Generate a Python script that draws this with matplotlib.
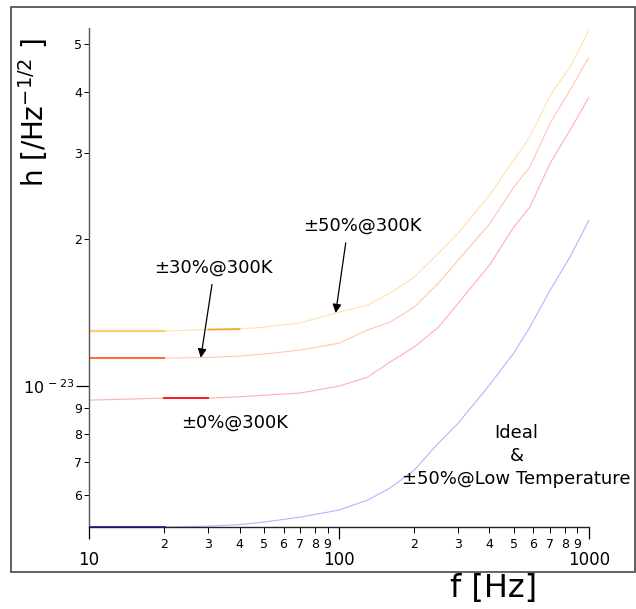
import numpy as np
import matplotlib.pyplot as plt
import matplotlib.patches as patches
from matplotlib.ticker import FixedLocator, FixedFormatter

# frequency points [Hz]
freq = [10, 20, 30, 40, 50, 70, 100, 130, 160, 200, 250, 300, 400, 500, 580, 700, 840, 1000]

# strain noise in units of 1e-23 /sqrt(Hz)
h_50 = [1.296, 1.296, 1.305, 1.308, 1.320, 1.347, 1.417, 1.464, 1.550, 1.671,
        1.871, 2.056, 2.458, 2.899, 3.230, 3.937, 4.492, 5.346]
h_30 = [1.141, 1.141, 1.144, 1.152, 1.163, 1.185, 1.224, 1.302, 1.352, 1.450,
        1.624, 1.811, 2.144, 2.553, 2.805, 3.451, 4.030, 4.708]
h_0 = [0.936, 0.945, 0.945, 0.951, 0.958, 0.968, 1.000, 1.043, 1.120, 1.202,
       1.320, 1.478, 1.768, 2.114, 2.323, 2.858, 3.338, 3.899]
h_ideal = [0.5148, 0.5148, 0.5172, 0.5209, 0.5271, 0.5396, 0.5578, 0.5846, 0.6186, 0.6733,
           0.7646, 0.8401, 1.005, 1.168, 1.320, 1.572, 1.836, 2.185]

x_major = [10, 100, 1000]
x_major_labels = ["10", "100", "1000"]
x_minor = [20, 30, 40, 50, 60, 70, 80, 90, 200, 300, 400, 500, 600, 700, 800, 900]
x_minor_labels = ["2", "3", "4", "5", "6", "7", "8", "9"] * 2
y_major = [1e-23]
y_major_labels = [r"10$^{\,-23}$"]
y_minor = [6e-24, 7e-24, 8e-24, 9e-24, 2e-23, 3e-23, 4e-23, 5e-23]
y_minor_labels = ["6", "7", "8", "9", "2", "3", "4", "5"]

f = np.array(freq)
scale = 1e-23
c50 = np.array(h_50) * scale
c30 = np.array(h_30) * scale
c0 = np.array(h_0) * scale
cid = np.array(h_ideal) * scale

plt.rcParams['font.family'] = ['DejaVu Sans']
plt.rcParams['mathtext.fontset'] = 'dejavusans'
fig = plt.figure(figsize=(6.36, 6.09), dpi=100)
ax = fig.add_axes([0.140, 0.1346, 0.786, 0.8194])

# thin light curves
ax.plot(f, c50, color="#ffe2a8", lw=0.8)
ax.plot(f, c30, color="#ffc6b0", lw=0.8)
ax.plot(f, c0, color="#ffb0b0", lw=0.8)
ax.plot(f, cid, color="#b4b4ff", lw=0.8)

# darker pieces of the curves
ax.plot(f[0:2], c50[0:2], color="#ffcc70", lw=1.6)
ax.plot(f[2:4], c50[2:4], color="#f2a832", lw=1.3)
ax.plot(f[0:2], c30[0:2], color="#ff6a30", lw=1.4)
ax.plot(f[1:3], c0[1:3], color="#ff1a1a", lw=1.4)
ax.plot(f[0:2], cid[0:2], color="#1a1aff", lw=2.0)

ax.set_xscale("log")
ax.set_yscale("log")
ax.set_xlim(10, 1000)
ax.set_ylim(5.15e-24, 5.40e-23)

for s in ["top", "right"]:
    ax.spines[s].set_visible(False)
ax.spines["left"].set_color("#555555")
ax.spines["bottom"].set_color("#222222")
ax.spines["left"].set_linewidth(1.0)
ax.spines["bottom"].set_linewidth(1.0)

ax.xaxis.set_major_locator(FixedLocator(x_major))
ax.xaxis.set_major_formatter(FixedFormatter(x_major_labels))
ax.xaxis.set_minor_locator(FixedLocator(x_minor))
ax.xaxis.set_minor_formatter(FixedFormatter(x_minor_labels))
ax.yaxis.set_major_locator(FixedLocator(y_major))
ax.yaxis.set_major_formatter(FixedFormatter(y_major_labels))
ax.yaxis.set_minor_locator(FixedLocator(y_minor))
ax.yaxis.set_minor_formatter(FixedFormatter(y_minor_labels))

ax.tick_params(axis="x", which="major", length=8.6, width=0.9, pad=9, labelsize=12)
ax.tick_params(axis="x", which="minor", length=4.3, width=0.7, pad=3.5, labelsize=9)
ax.tick_params(axis="y", which="major", length=9.4, width=0.9, pad=1.5, labelsize=11.5)
ax.tick_params(axis="y", which="minor", length=3.6, width=0.7, pad=1.5, labelsize=9)

ax.set_xlabel("f [Hz]", fontsize=23,
              bbox=dict(facecolor="white", edgecolor="none", pad=3))
ax.xaxis.set_label_coords(0.81, -0.092)
ax.set_ylabel(r"h [/Hz$^{\mathregular{-1/2}}$ ]", fontsize=20)
ax.yaxis.set_label_coords(-0.078, 0.83)

def on_curve(fx, curve):
    return 10 ** np.interp(np.log10(fx), np.log10(f), np.log10(curve))

arrow = dict(arrowstyle="-|>", color="black", lw=0.9, mutation_scale=13, shrinkA=4, shrinkB=0)
ax.annotate("±50%@300K", xy=(97, on_curve(97, c50)), xytext=(124, 2.13e-23),
            ha="center", va="center", fontsize=13,
            arrowprops=dict(arrow, relpos=(0.37, 0)))
ax.annotate("±30%@300K", xy=(28, on_curve(28, c30)), xytext=(31.4, 1.75e-23),
            ha="center", va="center", fontsize=13,
            arrowprops=dict(arrow, relpos=(0.5, 0)))
ax.text(38.3, 0.84e-23, "±0%@300K", ha="center", va="center", fontsize=13)
ax.text(514, 0.72e-23, "Ideal\n&\n±50%@Low Temperature", ha="center", va="center",
        fontsize=13, linespacing=1.35)

# outer frame
fig.patches.append(patches.Rectangle((0.0173, 0.0608), 0.981, 0.928, transform=fig.transFigure,
                                     fill=False, edgecolor="#555555", lw=1.3, zorder=0))

fig.savefig("out.png", dpi=100)
